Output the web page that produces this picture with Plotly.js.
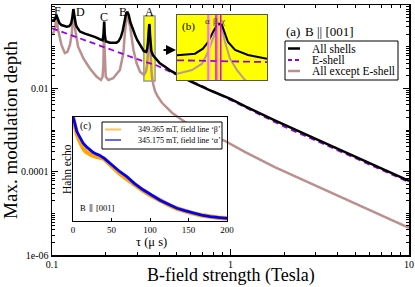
<!DOCTYPE html>
<html>
<head>
<meta charset="utf-8">
<script src="https://cdn.plot.ly/plotly-3.0.1.min.js"></script>
<style>html,body{margin:0;padding:0;background:#fff;}#chart{width:415px;height:287px;}</style>
</head>
<body>
<div id="chart"></div>
<script>
// ---------- main panel (a): max. modulation depth vs B ----------
const fieldAll = [0.1, 0.102, 0.104, 0.1055, 0.106, 0.1065, 0.108, 0.11, 0.113, 0.117, 0.121, 0.125, 0.128, 0.130, 0.131, 0.1317, 0.1325, 0.134, 0.136, 0.1375, 0.1435, 0.153, 0.163, 0.175, 0.186, 0.192, 0.1945, 0.196, 0.1975, 0.2, 0.211, 0.222, 0.23, 0.236, 0.243, 0.249, 0.254, 0.259, 0.264, 0.269, 0.275, 0.28, 0.286, 0.292, 0.3, 0.311, 0.32, 0.327, 0.3372, 0.3417, 0.3446, 0.3474, 0.3497, 0.3508, 0.3525, 0.3542, 0.3559, 0.3599, 0.3672, 0.378, 0.39, 0.402, 0.43, 0.458, 0.509, 0.6, 0.79, 1.0, 1.21, 1.77, 3, 5, 10];
const depthAll = [0.42, 0.43, 0.46, 0.53, 0.575, 0.53, 0.44, 0.37, 0.33, 0.31, 0.30, 0.31, 0.36, 0.50, 0.68, 0.80, 0.68, 0.45, 0.34, 0.30, 0.23, 0.205, 0.19, 0.17, 0.15, 0.142, 0.2, 0.40, 0.2, 0.135, 0.125, 0.122, 0.125, 0.135, 0.17, 0.24, 0.38, 0.575, 0.69, 0.575, 0.38, 0.30, 0.24, 0.19, 0.145, 0.11, 0.09, 0.078, 0.075, 0.09, 0.125, 0.21, 0.31, 0.35, 0.31, 0.19, 0.12, 0.08, 0.063, 0.055, 0.047, 0.04, 0.033, 0.027, 0.021, 0.0145, 0.0085, 0.0056, 0.0037, 0.0017, 0.00061, 0.00023, 0.00006];

const fieldE = [0.1, 0.15, 0.2, 0.3, 0.327, 0.378, 0.458, 0.7, 1, 2, 3, 5, 10];
const depthE = [0.276, 0.146, 0.093, 0.049, 0.044, 0.037, 0.025, 0.0112, 0.0053, 0.0012, 0.00056, 0.00021, 0.000056];

const fieldNoE = [0.1, 0.102, 0.104, 0.1055, 0.106, 0.1065, 0.108, 0.11, 0.113, 0.118, 0.122, 0.126, 0.129, 0.131, 0.1317, 0.1325, 0.135, 0.14, 0.15, 0.163, 0.178, 0.188, 0.192, 0.194, 0.1955, 0.196, 0.1965, 0.198, 0.2, 0.207, 0.22, 0.24, 0.251, 0.256, 0.26, 0.264, 0.268, 0.274, 0.286, 0.298, 0.311, 0.327, 0.3355, 0.3412, 0.3446, 0.3474, 0.3497, 0.3508, 0.3525, 0.3542, 0.357, 0.361, 0.3638, 0.3655, 0.37, 0.378, 0.39, 0.413, 0.44, 0.47, 0.556, 0.7, 0.93, 1.21, 1.77, 3, 5, 10];
const depthNoE = [0.19, 0.22, 0.29, 0.45, 0.52, 0.45, 0.26, 0.17, 0.11, 0.07, 0.075, 0.11, 0.2, 0.5, 0.8, 0.5, 0.25, 0.1, 0.052, 0.03, 0.019, 0.0159, 0.019, 0.035, 0.12, 0.40, 0.12, 0.035, 0.019, 0.0159, 0.0175, 0.0276, 0.069, 0.21, 0.4, 0.69, 0.45, 0.30, 0.083, 0.04, 0.025, 0.021, 0.025, 0.036, 0.07, 0.145, 0.28, 0.345, 0.26, 0.12, 0.049, 0.026, 0.0177, 0.015, 0.012, 0.0085, 0.0065, 0.0045, 0.0034, 0.0026, 0.00155, 0.00085, 0.00055, 0.000296, 0.000129, 0.000046, 0.000017, 0.0000045];

const peakLabels = ['F', 'D', 'C', 'B', 'A'];

// ---------- inset (b): zoom on peak A ----------
const fieldB_all = [0.327, 0.3372, 0.3417, 0.3446, 0.3474, 0.3497, 0.3508, 0.3525, 0.3542, 0.3559, 0.3599, 0.3672, 0.378];
const depthB_all = [0.0587, 0.0641, 0.0845, 0.1225, 0.213, 0.313, 0.336, 0.313, 0.194, 0.1225, 0.0787, 0.0597, 0.0487];
const fieldB_noE = [0.327, 0.3355, 0.3412, 0.3446, 0.3474, 0.3497, 0.3508, 0.3525, 0.3542, 0.357, 0.361, 0.3638, 0.3655, 0.37, 0.378];
const depthB_noE = [0.0212, 0.026, 0.0369, 0.0705, 0.147, 0.281, 0.336, 0.255, 0.1225, 0.0487, 0.026, 0.0177, 0.015, 0.012, 0.0085];
const fieldB_E = [0.327, 0.378];
const depthB_E = [0.0446, 0.0405];
const fieldLinesB = [0.3447, 0.3455, 0.3491, 0.3500, 0.3518];
const fieldLineLabels = ['α', 'β', 'χ'];
const fieldLineLabelPos = [0.3442, 0.3488, 0.3528];

// ---------- inset (c): Hahn echo ----------
const tauAlpha = [0, 1.3, 5, 9, 13, 18, 22, 26, 30, 35, 41, 48, 55, 61, 70, 80, 91, 102, 113, 124, 135, 145, 156, 167, 178, 189, 200];
const echoAlpha = [1.0, 0.97, 0.86, 0.80, 0.75, 0.71, 0.685, 0.66, 0.645, 0.63, 0.60, 0.555, 0.51, 0.474, 0.426, 0.36, 0.30, 0.25, 0.20, 0.16, 0.122, 0.10, 0.077, 0.057, 0.042, 0.033, 0.026];
const tauBeta = [0, 2, 5, 8, 11, 14, 17, 20, 24, 28, 32, 36, 40, 48, 55, 61, 70, 80, 91, 102, 113, 124, 135, 145, 156, 167, 178, 189, 200];
const echoBeta = [1.0, 0.92, 0.84, 0.78, 0.73, 0.69, 0.665, 0.65, 0.635, 0.625, 0.62, 0.615, 0.6, 0.545, 0.495, 0.455, 0.405, 0.35, 0.293, 0.243, 0.196, 0.156, 0.12, 0.096, 0.073, 0.055, 0.04, 0.031, 0.026];
const tauTicks = [0, 50, 100, 150, 200];

// ---------- styles ----------
const F = 'Liberation Serif, Times New Roman, serif';
const cBlack = '#000000', cE = '#9b00e0', cNoE = '#bc8f8f';
const cAlpha = '#0000ff', cBeta = '#ffa500';

// plot area in pixels: left 52, right 409, top 5, bottom 255
const W = 415, H = 287, L = 52, R = 6, T = 5, B = 32;
const pw = W - L - R, ph = H - T - B;
const px = v => (v - L) / pw;
const py = v => (H - B - v) / ph;

const traces = [
  {x: fieldNoE, y: depthNoE, xaxis: 'x', yaxis: 'y', mode: 'lines', line: {color: cNoE, width: 2.5}, name: 'All except E-shell'},
  {x: fieldE, y: depthE, xaxis: 'x', yaxis: 'y', mode: 'lines', line: {color: cE, width: 1.8, dash: '6px,4px'}, name: 'E-shell'},
  {x: fieldAll, y: depthAll, xaxis: 'x', yaxis: 'y', mode: 'lines', line: {color: cBlack, width: 2.5}, name: 'All shells'},
  // inset c
  {x: tauBeta, y: echoBeta, xaxis: 'x2', yaxis: 'y2', mode: 'lines', line: {color: cBeta, width: 4.5}, name: 'beta'},
  {x: tauAlpha, y: echoAlpha, xaxis: 'x2', yaxis: 'y2', mode: 'lines', line: {color: cAlpha, width: 2.8}, name: 'alpha'},
  // inset b
  {x: fieldB_noE, y: depthB_noE, xaxis: 'x3', yaxis: 'y3', mode: 'lines', line: {color: '#b89a9a', width: 2}, name: 'b noE'},
  {x: fieldB_E, y: depthB_E, xaxis: 'x3', yaxis: 'y3', mode: 'lines', line: {color: cE, width: 1.8, dash: '7px,4px'}, name: 'b E'},
  {x: fieldB_all, y: depthB_all, xaxis: 'x3', yaxis: 'y3', mode: 'lines', line: {color: cBlack, width: 2}, name: 'b all'}
];

// ticks
const xMinor = [];
[0.1, 1].forEach(d => { for (let k = 2; k <= 9; k++) xMinor.push(k * d); });
const yMinor = [];
for (let e = -6; e < 0; e++) { for (let k = 1; k <= 9; k++) { const v = k * Math.pow(10, e); if (!(k === 1 && e % 2 === 0)) yMinor.push(v); } }

const lineColors = ['#ff6fc0', '#ffb0d8', '#e000e0', '#ff7fc8', '#e000e0'];
const lineWidths = [2, 1.5, 1.5, 1.5, 1.5];

const shapes = [
  // highlight box around peak A (main)
  {type: 'rect', xref: 'x', yref: 'y', x0: 0.327, x1: 0.378, y0: 0.015, y1: 0.545, fillcolor: '#ffff00', line: {color: '#999999', width: 1.5}, layer: 'below'},
  // yellow background of inset b
  {type: 'rect', xref: 'x3', yref: 'y3', x0: 0.327, x1: 0.378, y0: 0.015, y1: 0.545, fillcolor: '#ffff00', line: {width: 0}, layer: 'below'}
];
fieldLinesB.forEach((v, i) => shapes.push({type: 'line', xref: 'x3', yref: 'y3 domain', x0: v, x1: v, y0: 0, y1: 1, line: {color: lineColors[i], width: lineWidths[i]}, layer: 'above'}));
// main legend
shapes.push({type: 'rect', xref: 'paper', yref: 'paper', x0: px(285), x1: px(398), y0: py(80), y1: py(41), fillcolor: '#fff', line: {color: '#000', width: 1}, layer: 'above'});
const legRows = [48.5, 60, 71];
const legStyles = [{color: cBlack, width: 2.5}, {color: cE, width: 2, dash: '4px,3px'}, {color: cNoE, width: 2.5}];
legRows.forEach((r, i) => shapes.push({type: 'line', xref: 'paper', yref: 'paper', x0: px(288), x1: px(300), y0: py(r), y1: py(r), line: legStyles[i], layer: 'above'}));
// inset c legend
shapes.push({type: 'rect', xref: 'paper', yref: 'paper', x0: px(102), x1: px(222), y0: py(149), y1: py(122), fillcolor: '#fff', line: {color: '#000', width: 1}, layer: 'above'});
shapes.push({type: 'line', xref: 'paper', yref: 'paper', x0: px(105), x1: px(121), y0: py(129.5), y1: py(129.5), line: {color: '#ffc060', width: 2}, layer: 'above'});
shapes.push({type: 'line', xref: 'paper', yref: 'paper', x0: px(105), x1: px(121), y0: py(140), y1: py(140), line: {color: cAlpha, width: 1.2}, layer: 'above'});
// grey "||" block in inset c
shapes.push({type: 'rect', xref: 'paper', yref: 'paper', x0: px(89.5), x1: px(92.5), y0: py(212), y1: py(204), fillcolor: '#999', line: {width: 0}, layer: 'above'});

const ann = [];
const peakPos = [[57.3, 10.5], [80, 11.5], [104, 16.5], [122.7, 11.5], [149.5, 11.5]];
peakLabels.forEach((t, i) => ann.push({text: t, xref: 'paper', yref: 'paper', x: px(peakPos[i][0]), y: py(peakPos[i][1]), showarrow: false, font: {family: F, size: 12, color: '#000'}, xanchor: 'center', yanchor: 'middle'}));
ann.push({text: '', xref: 'paper', yref: 'paper', x: px(176), y: py(50), ax: -14, ay: 0, showarrow: true, arrowhead: 2, arrowsize: 1, arrowwidth: 2, arrowcolor: '#000', standoff: 0, startstandoff: 0});
ann.push({text: '(b)', xref: 'paper', yref: 'paper', x: px(180), y: py(27), xanchor: 'left', yanchor: 'middle', showarrow: false, font: {family: F, size: 11, color: '#000'}});
fieldLineLabels.forEach((t, i) => ann.push({text: t, xref: 'x3', yref: 'paper', x: fieldLineLabelPos[i], y: py(20.5), showarrow: false, xanchor: 'center', yanchor: 'middle', font: {family: F, size: 9, color: '#333'}}));
ann.push({text: '(a)', xref: 'paper', yref: 'paper', x: px(284), y: py(32), xanchor: 'left', yanchor: 'middle', showarrow: false, font: {family: F, size: 13, color: '#000'}});
ann.push({text: 'B || [001]', xref: 'paper', yref: 'paper', x: px(303), y: py(32), xanchor: 'left', yanchor: 'middle', showarrow: false, font: {family: F, size: 13, color: '#000'}});
['All shells', 'E-shell', 'All except E-shell'].forEach((t, i) => ann.push({text: t, xref: 'paper', yref: 'paper', x: px(310), y: py(legRows[i]), xanchor: 'left', yanchor: 'middle', showarrow: false, font: {family: F, size: 11.5, color: '#000'}}));
ann.push({text: '349.365 mT, field line ‘β’', xref: 'paper', yref: 'paper', x: px(136), y: py(129.5), xanchor: 'left', yanchor: 'middle', showarrow: false, font: {family: F, size: 8, color: '#000'}});
ann.push({text: '345.175 mT, field line ‘α’', xref: 'paper', yref: 'paper', x: px(136), y: py(140), xanchor: 'left', yanchor: 'middle', showarrow: false, font: {family: F, size: 8, color: '#000'}});
ann.push({text: '(c)', xref: 'paper', yref: 'paper', x: px(78), y: py(126), xanchor: 'left', yanchor: 'middle', showarrow: false, font: {family: F, size: 10, color: '#000'}});
ann.push({text: 'B', xref: 'paper', yref: 'paper', x: px(78), y: py(208), xanchor: 'left', yanchor: 'middle', showarrow: false, font: {family: F, size: 8.5, color: '#000'}});
ann.push({text: '[001]', xref: 'paper', yref: 'paper', x: px(94), y: py(208), xanchor: 'left', yanchor: 'middle', showarrow: false, font: {family: F, size: 8.5, color: '#000'}});
ann.push({text: 'Hahn echo', xref: 'paper', yref: 'paper', x: px(67), y: py(169), textangle: -90, xanchor: 'center', yanchor: 'middle', showarrow: false, font: {family: F, size: 11.5, color: '#000'}});
ann.push({text: 'τ (μ s)', xref: 'paper', yref: 'paper', x: px(151), y: py(242), xanchor: 'center', yanchor: 'middle', showarrow: false, font: {family: F, size: 12.5, color: '#000'}});
// main x-axis title
ann.push({text: 'B-field strength (Tesla)', xref: 'paper', yref: 'paper', x: px(231), y: py(288), xanchor: 'center', yanchor: 'bottom', showarrow: false, font: {family: F, size: 18, color: '#000'}});

const layout = {
  width: W, height: H,
  margin: {l: L, r: R, t: T, b: B, pad: 0},
  paper_bgcolor: '#ffffff', plot_bgcolor: 'rgba(0,0,0,0)',
  showlegend: false,
  font: {family: F, color: '#000'},
  xaxis: {
    type: 'log', range: [-1, 1], domain: [0, 1], anchor: 'y',
    tickmode: 'array', tickvals: [0.1, 1, 10], ticktext: ['0.1', '1', '10'],
    ticks: 'inside', ticklen: 6, tickwidth: 1, tickcolor: '#000',
    minor: {tickmode: 'array', tickvals: xMinor, ticks: 'inside', ticklen: 3, tickwidth: 1, tickcolor: '#000'},
    showline: true, linecolor: '#000', linewidth: 1.5, mirror: 'ticks',
    showgrid: false, zeroline: false, ticklabelstandoff: -1,
    tickfont: {family: F, size: 10, color: '#000'}
  },
  yaxis: {
    type: 'log', range: [-6, 0], domain: [0, 1], anchor: 'x',
    tickmode: 'array', tickvals: [1e-6, 1e-4, 1e-2, 1], ticktext: ['1e-06', '0.0001', '0.01', '1'],
    ticks: 'inside', ticklen: 6, tickwidth: 1, tickcolor: '#000',
    minor: {tickmode: 'array', tickvals: yMinor, ticks: 'inside', ticklen: 3, tickwidth: 1, tickcolor: '#000'},
    showline: true, linecolor: '#000', linewidth: 1.5, mirror: 'ticks',
    showgrid: false, zeroline: false,
    tickfont: {family: F, size: 10, color: '#000'},
    title: {text: 'Max. modulation depth', font: {family: F, size: 19, color: '#000'}, standoff: 4}
  },
  xaxis2: {
    domain: [px(73), px(227)], anchor: 'y2', range: [0, 200],
    tickmode: 'array', tickvals: tauTicks, ticks: 'inside', ticklen: 3, tickcolor: '#000',
    showline: true, linecolor: '#000', linewidth: 1, mirror: true,
    showgrid: false, zeroline: false,
    tickfont: {family: F, size: 9, color: '#000'}
  },
  yaxis2: {
    domain: [py(221), py(117)], anchor: 'x2', range: [0, 1],
    showticklabels: false, ticks: '',
    showline: true, linecolor: '#000', linewidth: 1, mirror: true,
    showgrid: false, zeroline: false
  },
  xaxis3: {
    domain: [px(177), px(267)], anchor: 'y3', range: [0.327, 0.378],
    showticklabels: false, ticks: '',
    showline: true, linecolor: '#555', linewidth: 1, mirror: true,
    showgrid: false, zeroline: false
  },
  yaxis3: {
    type: 'log', domain: [py(80), py(15)], anchor: 'x3', range: [Math.log10(0.015), Math.log10(0.545)],
    showticklabels: false, ticks: '',
    showline: true, linecolor: '#555', linewidth: 1, mirror: true,
    showgrid: false, zeroline: false
  },
  shapes: shapes,
  annotations: ann
};

Plotly.newPlot('chart', traces, layout, {staticPlot: true, displayModeBar: false});
</script>
</body>
</html>
